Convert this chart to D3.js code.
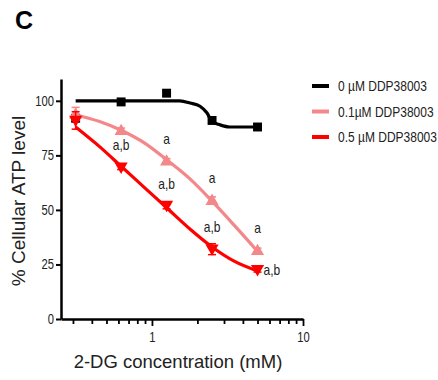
<!DOCTYPE html>
<html>
<head>
<meta charset="utf-8">
<script src="https://cdn.jsdelivr.net/npm/d3@7"></script>
<style>
  body { margin: 0; background: #fff; }
  svg { display: block; }
  .narrow { font-family: "Liberation Sans Narrow", "Arial Narrow", "Liberation Sans", sans-serif; }
</style>
</head>
<body>
<svg id="chart" width="438" height="380"></svg>
<script>
// doses of 2-DG (mM)
const doses = [0.3125, 0.625, 1.25, 2.5, 5];

// measured ATP level (%) per treatment
const atpControl = [92, 99.5, 103.5, 91, 88];
const atpLow = [94, 86.5, 72.5, 54.5, 31.5];
const atpHigh = [91, 69.5, 52, 32, 22.5];
const errControl = [1, 1, 1, 1, 1];
const errLow = [3, 1, 1, 1.5, 1];
const errHigh = [4, 1, 1.5, 2.5, 1];

// fitted curves
const fitControlX = [0.3125, 0.625, 1.0, 1.53, 1.79, 2.08, 2.31, 2.5, 2.82, 3.28, 5];
const fitControlY = [100, 100, 100, 100, 99, 97.5, 94.5, 90.5, 89, 88, 88];
const fitLowX = [0.3125, 0.45, 0.625, 0.9, 1.25, 1.8, 2.5, 3.5, 5];
const fitLowY = [93.5, 90.5, 86.5, 80.5, 73, 64, 54, 43, 31];
const fitHighX = [0.3125, 0.45, 0.625, 0.9, 1.25, 1.8, 2.5, 3.5, 5];
const fitHighY = [88, 79, 70, 60, 51, 41, 33, 26.5, 22];

const seriesNames = ["0 \u00b5M DDP38003", "0.1\u00b5M DDP38003", "0.5 \u00b5M DDP38003"];
const seriesColors = ["#000000", "#f4878a", "#ff0000"];

// significance letters: series index, dose index, text
const marks = [
  [2, 1, "a,b"], [1, 2, "a"], [2, 2, "a,b"], [1, 3, "a"],
  [2, 3, "a,b"], [1, 4, "a"], [2, 4, "a,b"]
];

const yTicks = [0, 25, 50, 75, 100];
const xMajor = [1, 10];
const xMinor = [0.3, 0.4, 0.5, 0.6, 0.7, 0.8, 0.9, 2, 3, 4, 5, 6, 7, 8, 9];

const svg = d3.select("#chart");

const x = d3.scaleLog().domain([0.25, 10]).range([61, 303]);
const y = d3.scaleLinear().domain([0, 110]).range([319, 79]);

const series = [
  { pts: atpControl, err: errControl, fx: fitControlX, fy: fitControlY, sym: "square" },
  { pts: atpLow, err: errLow, fx: fitLowX, fy: fitLowY, sym: "up" },
  { pts: atpHigh, err: errHigh, fx: fitHighX, fy: fitHighY, sym: "down" }
];

// no narrow font installed: squeeze the glyphs instead
function squeeze(sel, k) {
  sel.each(function() {
    const w = this.getComputedTextLength();
    this.setAttribute("textLength", w * k);
    this.setAttribute("lengthAdjust", "spacingAndGlyphs");
  });
}

// panel letter
svg.append("text")
  .attr("x", 15).attr("y", 29)
  .attr("font-family", "Liberation Sans, Arial, sans-serif")
  .attr("font-weight", "bold")
  .attr("font-size", 25)
  .text("C");

// axes
const yAxis = svg.append("g")
  .attr("class", "narrow")
  .attr("transform", `translate(${x.range()[0]},0)`)
  .call(d3.axisLeft(y).tickValues(yTicks).tickSize(5).tickSizeOuter(0).tickPadding(2));
yAxis.select(".domain").attr("stroke-width", 2.5);
yAxis.selectAll(".tick line").attr("stroke-width", 2);
yAxis.selectAll(".tick text").attr("font-size", 14).attr("fill", "#222").call(squeeze, 0.8);

const xAxis = svg.append("g")
  .attr("class", "narrow")
  .attr("transform", `translate(0,${y(0)})`)
  .call(d3.axisBottom(x).tickValues(xMajor.concat(xMinor)).tickSize(5).tickSizeOuter(0)
    .tickPadding(8).tickFormat(d => xMajor.includes(d) ? d : ""));
xAxis.select(".domain").attr("stroke-width", 2.5);
xAxis.selectAll(".tick line").attr("stroke-width", 1.8)
  .attr("y2", d => xMajor.includes(d) ? 7 : 5);
xAxis.selectAll(".tick text").attr("font-size", 14).attr("fill", "#222")
  .filter(d => xMajor.includes(d)).call(squeeze, 0.8);

// axis titles
svg.append("text")
  .attr("transform", "translate(25,201) rotate(-90)")
  .attr("text-anchor", "middle")
  .attr("font-family", "Liberation Sans, Arial, sans-serif")
  .attr("font-size", 19)
  .attr("fill", "#222")
  .text("% Cellular ATP level");

svg.append("text")
  .attr("x", 178).attr("y", 368)
  .attr("text-anchor", "middle")
  .attr("font-family", "Liberation Sans, Arial, sans-serif")
  .attr("font-size", 18.5)
  .attr("fill", "#222")
  .text("2-DG concentration (mM)");

// fitted curves
const line = d3.line().x(d => x(d[0])).y(d => y(d[1])).curve(d3.curveMonotoneX);
series.forEach((s, i) => {
  svg.append("path")
    .datum(d3.zip(s.fx, s.fy))
    .attr("d", line)
    .attr("fill", "none")
    .attr("stroke", seriesColors[i])
    .attr("stroke-width", 3.2);
});

// error bars and markers
const symSquare = d3.symbol().type(d3.symbolSquare).size(80);
const symTri = d3.symbol().type(d3.symbolTriangle).size(75);
series.forEach((s, i) => {
  const g = svg.append("g").attr("fill", seriesColors[i]).attr("stroke", seriesColors[i]);
  s.pts.forEach((v, j) => {
    const cx = x(doses[j]);
    const lo = y(v - s.err[j]), hi = y(v + s.err[j]);
    g.append("line").attr("x1", cx).attr("x2", cx).attr("y1", lo).attr("y2", hi).attr("stroke-width", 1.5);
    g.append("line").attr("x1", cx - 4).attr("x2", cx + 4).attr("y1", hi).attr("y2", hi).attr("stroke-width", 1.5);
    g.append("line").attr("x1", cx - 4).attr("x2", cx + 4).attr("y1", lo).attr("y2", lo).attr("stroke-width", 1.5);
    let rot = 0;
    if (s.sym === "down") rot = 180;
    g.append("path")
      .attr("d", s.sym === "square" ? symSquare() : symTri())
      .attr("stroke", "none")
      .attr("transform", `translate(${cx},${y(v) + (s.sym === "down" ? -1 : s.sym === "up" ? 1 : 0)}) rotate(${rot})`);
  });
});

// significance letters
const isLast = d => d[1] === doses.length - 1 && d[0] === 2;
svg.append("g")
  .attr("class", "narrow")
  .attr("font-size", 15)
  .attr("fill", "#222")
  .selectAll("text")
  .data(marks)
  .join("text")
  .attr("x", d => x(doses[d[1]]) + (isLast(d) ? 6 : 0))
  .attr("y", d => y(series[d[0]].pts[d[1]]) + (isLast(d) ? 5 : -17))
  .attr("text-anchor", d => isLast(d) ? "start" : "middle")
  .text(d => d[2])
  .call(squeeze, 0.8);

// legend (scaled horizontally to mimic the narrow face)
const legend = svg.append("g").attr("class", "narrow");
seriesNames.forEach((name, i) => {
  const ly = 86 + i * 25.5;
  legend.append("line")
    .attr("x1", 312).attr("x2", 329).attr("y1", ly).attr("y2", ly)
    .attr("stroke", seriesColors[i]).attr("stroke-width", 4);
  legend.append("text")
    .attr("transform", `translate(338,${ly + 5}) scale(0.8,1)`)
    .attr("font-size", 15)
    .attr("fill", "#222")
    .text(name);
});
</script>
</body>
</html>
